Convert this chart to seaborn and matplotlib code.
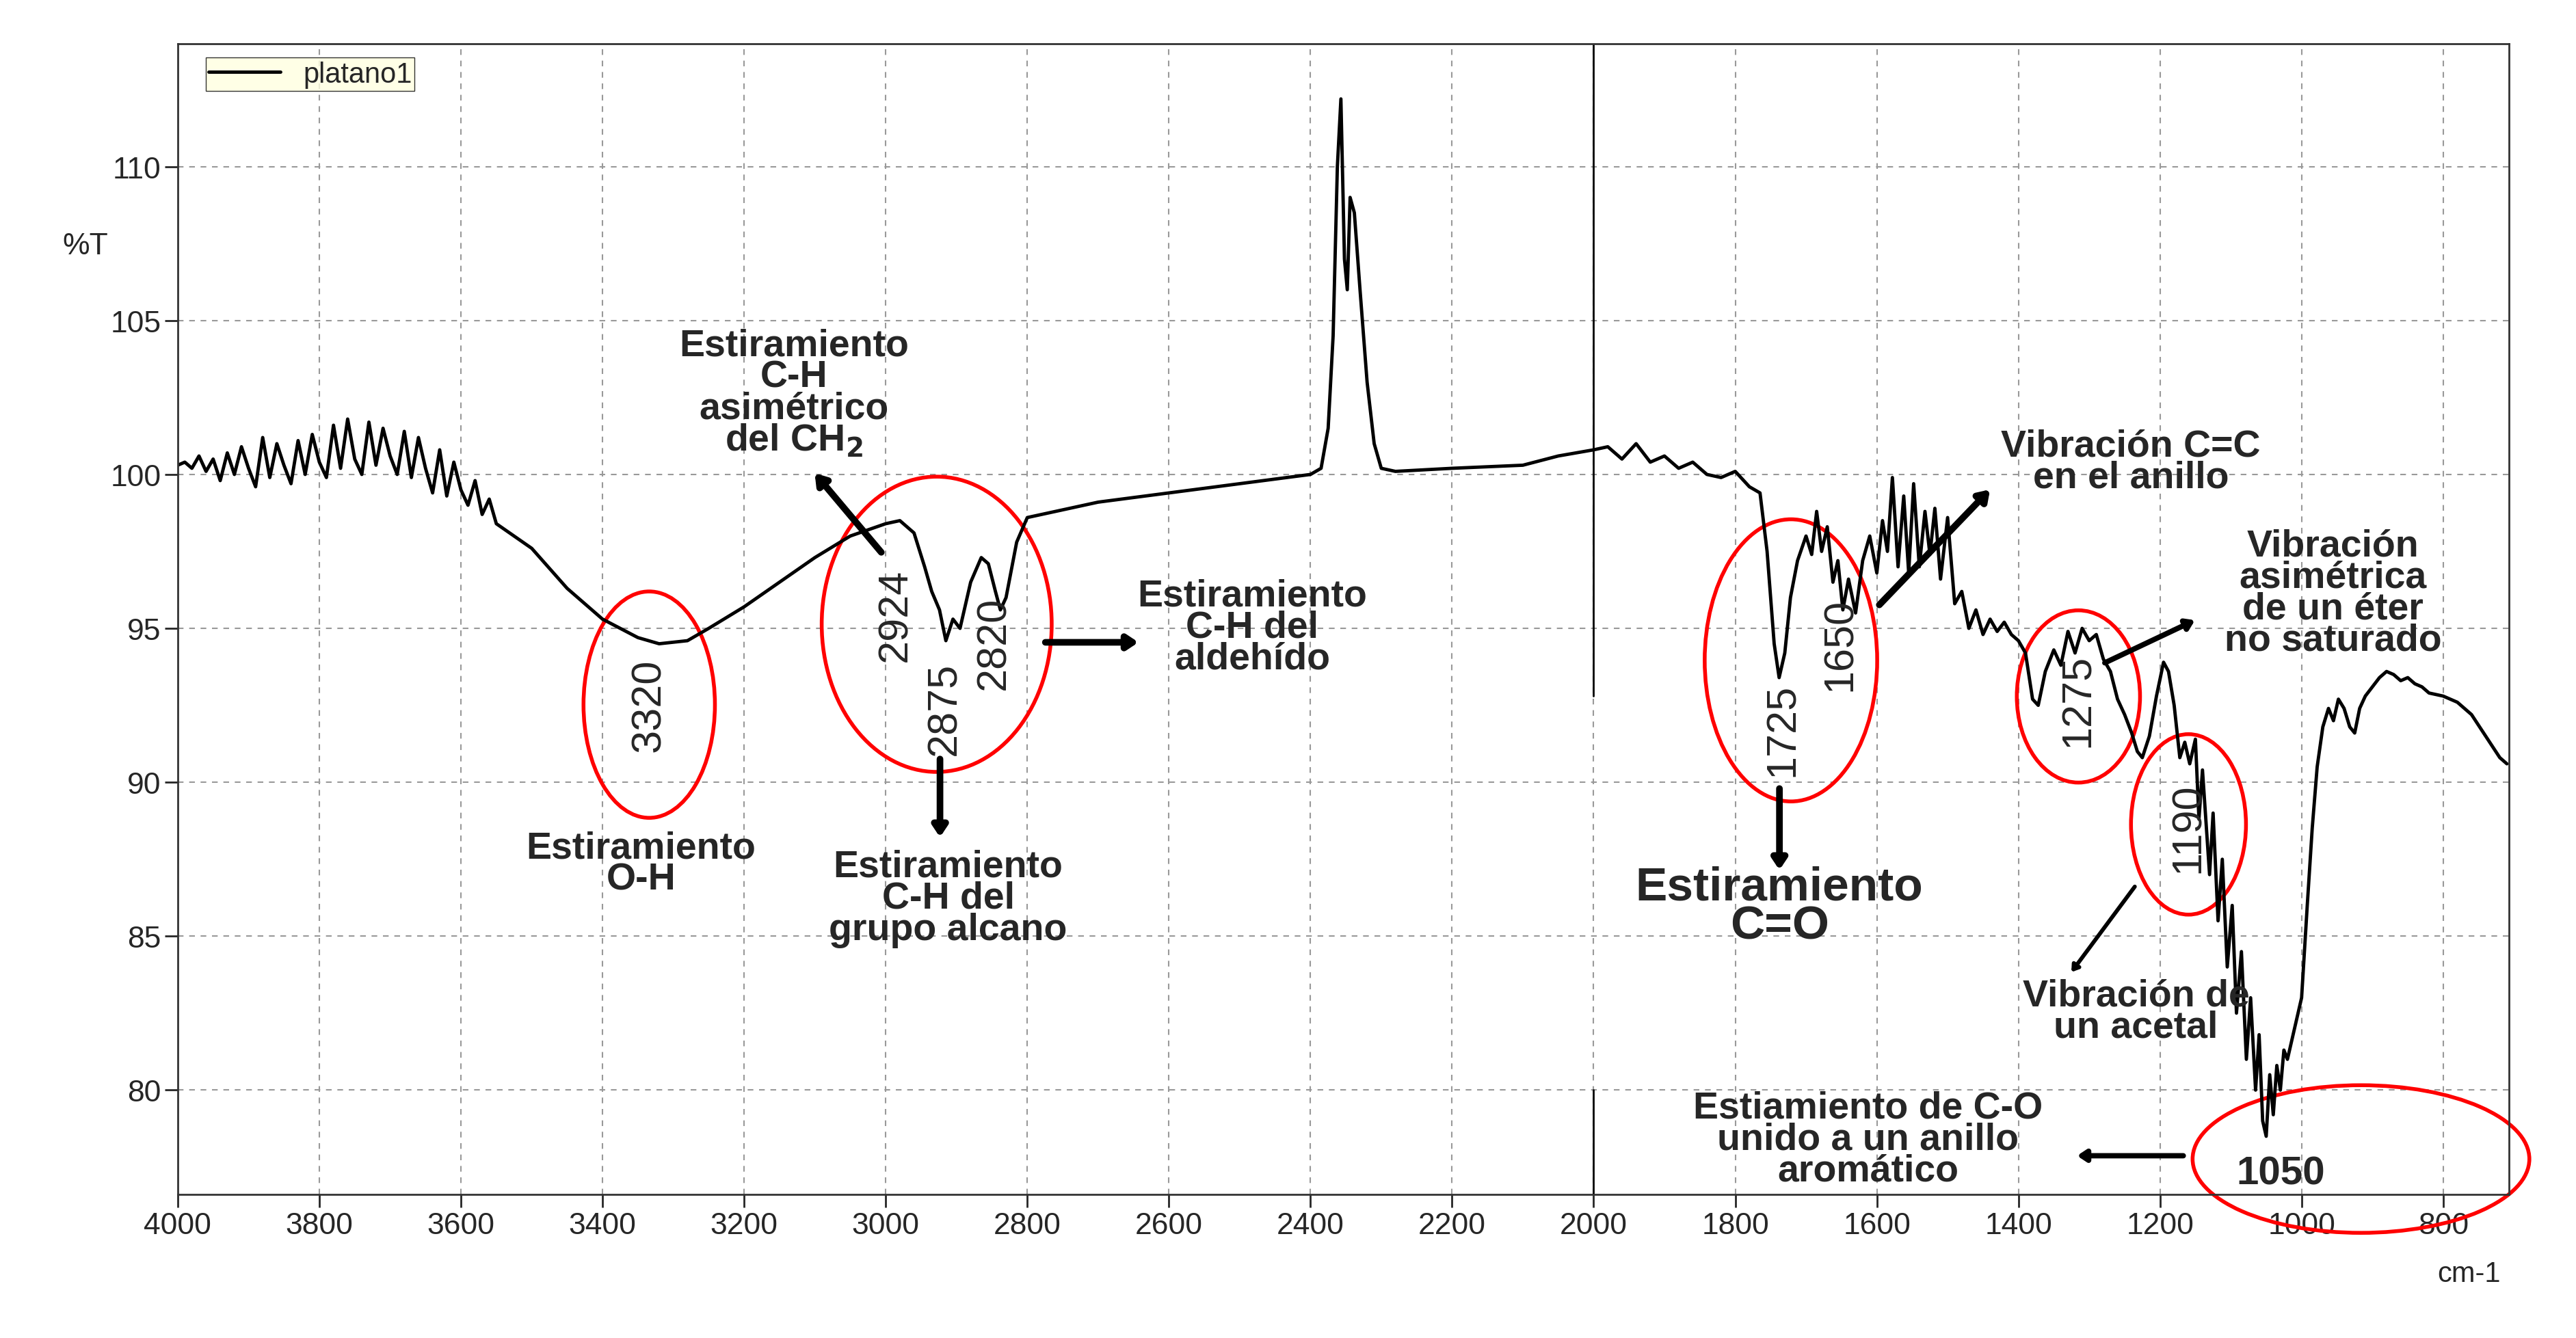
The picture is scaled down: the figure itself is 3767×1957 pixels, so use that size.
import matplotlib
matplotlib.use("Agg")
import matplotlib.pyplot as plt
import seaborn as sns
import pandas as pd
from matplotlib.patches import Ellipse
from matplotlib.ticker import MultipleLocator

sns.set_style("white")
plt.rcParams['font.family'] = ['Liberation Sans', 'DejaVu Sans']

wavenumber = [
 4000,3990,3980,3970,3960,3950,3940,3930,3920,3910,
 3900,3890,3880,3870,3860,3850,3840,3830,3820,3810,
 3800,3790,3780,3770,3760,3750,3740,3730,3720,3710,
 3700,3690,3680,3670,3660,3650,3640,3630,3620,3610,
 3600,3590,3580,3570,3560,3550,3500,3450,3400,3350,
 3320,3280,3250,3200,3150,3100,3050,3000,2980,2960,
 2945,2935,2924,2915,2905,2895,2880,2865,2855,2845,
 2838,2830,2815,2800,2700,2600,2500,2400,2385,2375,
 2368,2362,2357,2352,2348,2344,2338,2330,2320,2310,
 2300,2280,2200,2100,2050,2000,1980,1960,1940,1920,
 1900,1880,1860,1840,1820,1800,1780,1765,1755,1745,
 1738,1730,1722,1712,1700,1692,1685,1678,1670,1662,
 1655,1648,1640,1630,1620,1610,1600,1592,1585,1578,
 1570,1562,1555,1548,1540,1532,1525,1518,1510,1500,
 1490,1480,1470,1460,1450,1440,1430,1420,1410,1400,
 1390,1380,1372,1362,1350,1340,1330,1320,1310,1300,
 1290,1280,1270,1260,1250,1240,1232,1225,1215,1205,
 1195,1188,1180,1172,1165,1158,1150,1145,1140,1130,
 1125,1118,1112,1105,1098,1092,1085,1078,1072,1065,
 1060,1055,1050,1045,1040,1035,1030,1025,1020,1010,
 1000,992,985,978,970,962,955,948,940,932,
 925,918,910,900,890,880,870,860,850,840,
 830,820,800,780,760,740,720,710]
transmittance = [
 100.3,100.4,100.2,100.6,100.1,100.5,99.8,100.7,100.0,100.9,
 100.2,99.6,101.2,99.9,101.0,100.3,99.7,101.1,100.0,101.3,
 100.4,99.9,101.6,100.2,101.8,100.5,100.0,101.7,100.3,101.5,
 100.6,100.0,101.4,99.9,101.2,100.2,99.4,100.8,99.3,100.4,
 99.5,99.0,99.8,98.7,99.2,98.4,97.6,96.3,95.3,94.7,
 94.5,94.6,95.0,95.7,96.5,97.3,98.0,98.4,98.5,98.1,
 97.0,96.2,95.6,94.6,95.3,95.0,96.5,97.3,97.1,96.2,
 95.6,96.0,97.8,98.6,99.1,99.4,99.7,100.0,100.2,101.5,
 104.5,110.0,112.2,107.0,106.0,109.0,108.5,106.0,103.0,101.0,
 100.2,100.1,100.2,100.3,100.6,100.8,100.9,100.5,101.0,100.4,
 100.6,100.2,100.4,100.0,99.9,100.1,99.6,99.4,97.5,94.5,
 93.4,94.2,96.0,97.2,98.0,97.4,98.8,97.5,98.3,96.5,
 97.2,95.6,96.6,95.5,97.2,98.0,96.8,98.5,97.5,99.9,
 97.0,99.3,96.8,99.7,97.0,98.8,97.4,98.9,96.6,98.6,
 95.8,96.2,95.0,95.6,94.8,95.3,94.9,95.2,94.8,94.6,
 94.2,92.7,92.5,93.6,94.3,93.8,94.9,94.2,95.0,94.6,
 94.8,94.0,93.6,92.7,92.2,91.6,91.0,90.8,91.5,92.8,
 93.9,93.6,92.5,90.8,91.3,90.6,91.4,88.8,90.4,87.0,
 89.0,85.5,87.5,84.0,86.0,82.5,84.5,81.0,83.0,80.0,
 81.8,79.0,78.5,80.5,79.2,80.8,80.0,81.3,81.0,82.0,
 83.0,86.0,88.5,90.5,91.8,92.4,92.0,92.7,92.4,91.8,
 91.6,92.4,92.8,93.1,93.4,93.6,93.5,93.3,93.4,93.2,
 93.1,92.9,92.8,92.6,92.2,91.5,90.8,90.6]

df = pd.DataFrame({"wn": wavenumber, "T": transmittance})

fig = plt.figure(figsize=(37.67, 19.58), dpi=100)
ax = fig.add_axes([0.069, 0.107, 0.905, 0.860])
sns.lineplot(data=df, x="wn", y="T", ax=ax, color="black", lw=3.5, sort=False, label="platano1")
ax.set_xlim(4000, 707)
ax.set_ylim(76.6, 114)
ax.xaxis.set_major_locator(MultipleLocator(200))
ax.xaxis.set_minor_locator(MultipleLocator(50))
ax.yaxis.set_major_locator(MultipleLocator(5))
ax.yaxis.set_minor_locator(MultipleLocator(1))
ax.grid(True, which="major", ls=(0, (4, 4)), color="#999999", lw=1.5)
ax.tick_params(which="major", length=14, width=2, labelsize=32, direction="out")
ax.tick_params(which="minor", length=8, width=1.5, direction="out")
ax.tick_params(left=True, bottom=True)
ax.set_xlabel(""); ax.set_ylabel("")
for s in ax.spines.values():
    s.set_linewidth(2); s.set_color("#333333")
ax.plot([2000, 2000], [92.8, 114], color="black", lw=2)
ax.plot([2000, 2000], [76.6, 80], color="black", lw=2)
leg = ax.legend(loc="upper left", fontsize=30, frameon=True, fancybox=False, borderpad=0.1,
                handlelength=2.5, bbox_to_anchor=(0.006, 1.0))
leg.get_frame().set_facecolor("#ffffe0"); leg.get_frame().set_edgecolor("black")

def X(px): return 4000 - (px - 108) / 86.19 * 200
def Y(py): return 110 - (py - 102) / 93.83 * 5

for cx, cy, w, h in [(395, 430, 80, 138), (570, 381, 140, 180), (1090, 403, 105, 172),
                     (1265, 425, 75, 105), (1332, 503, 70, 110), (1437, 707, 205, 90)]:
    ax.add_patch(Ellipse((X(cx), Y(cy)), w / 86.19 * 200, h / 93.83 * 5, fill=False,
                         ec="red", lw=4, clip_on=False))

fs = 40
def t(px, py, s, rot=0, size=fs, bold=True):
    ax.text(X(px), Y(py), s, rotation=rot, ha="center", va="center", fontsize=size,
            fontweight="bold" if bold else "normal", linespacing=0.85, clip_on=False)

for px, py, s in [(395, 430, "3320"), (545, 375, "2924"), (575, 432, "2875"), (605, 392, "2820"),
                  (1085, 445, "1725"), (1120, 393, "1650"), (1265, 427, "1275"), (1332, 505, "1190")]:
    t(px, py, s, rot=90, size=44, bold=False)
t(1388, 716, "1050", size=42)
t(483, 240, "Estiramiento\nC-H\nasimétrico\ndel CH$_\\mathbf{2}$")
t(762, 383, "Estiramiento\nC-H del\naldehído")
t(390, 527, "Estiramiento\nO-H")
t(577, 548, "Estiramiento\nC-H del\ngrupo alcano")
t(1083, 553, "Estiramiento\nC=O", size=50)
t(1297, 282, "Vibración C=C\nen el anillo")
t(1420, 362, "Vibración\nasimétrica\nde un éter\nno saturado")
t(1300, 617, "Vibración de\nun acetal")
t(1137, 695, "Estiamiento de C-O\nunido a un anillo\naromático")

def arr(x0, y0, x1, y1, w=10):
    ax.annotate("", xy=(X(x1), Y(y1)), xytext=(X(x0), Y(y0)),
                arrowprops=dict(arrowstyle=f"-|>,head_width={w*0.06},head_length={w*0.09}",
                                lw=w * 0.7, color="black"), annotation_clip=False)

arr(537, 338, 495, 288)
arr(572, 462, 572, 512)
arr(635, 392, 694, 392)
arr(1083, 480, 1083, 532)
arr(1143, 370, 1212, 298)
arr(1280, 405, 1337, 378, 8)
arr(1300, 540, 1260, 594, 6)
arr(1330, 705, 1263, 705, 8)

fig.text(52 / 1568, 1 - 150 / 815, "%T", fontsize=32, ha="center", va="center")
fig.text(1503 / 1568, 1 - 776 / 815, "cm-1", fontsize=30, ha="center", va="center")
fig.savefig("out.png", dpi=100)
